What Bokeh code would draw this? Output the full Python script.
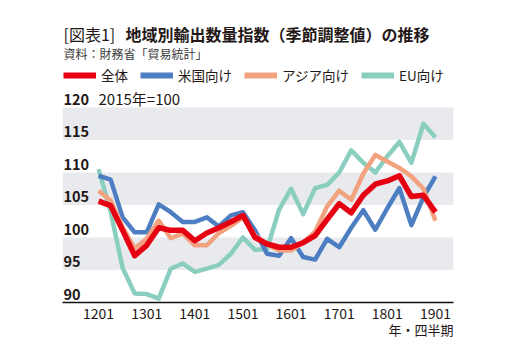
from bokeh.plotting import figure
from bokeh.models import (BoxAnnotation, Label, LabelSet, Legend, LegendItem,
                          FixedTicker, ColumnDataSource, Range1d, Title)
from bokeh.core.properties import value
from bokeh.embed import file_html
from bokeh.resources import INLINE

# ---------------- data ----------------
quarters = ["1201", "1202", "1203", "1204",
            "1301", "1302", "1303", "1304",
            "1401", "1402", "1403", "1404",
            "1501", "1502", "1503", "1504",
            "1601", "1602", "1603", "1604",
            "1701", "1702", "1703", "1704",
            "1801", "1802", "1803", "1804",
            "1901"]

total = [105.6, 104.9, 101.1, 97.2, 98.8, 101.5, 101.1, 101.1, 99.5, 100.7,
         101.5, 102.4, 103.4, 100.0, 99.0, 98.5, 98.5, 99.2, 100.3, 102.8,
         105.2, 103.8, 106.5, 108.2, 108.7, 109.5, 106.3, 106.5, 103.9]

usa = [109.5, 108.9, 103.1, 100.8, 100.8, 105.1, 103.9, 102.4, 102.4, 103.1,
       101.7, 103.4, 103.9, 101.1, 97.5, 97.2, 99.9, 97.0, 96.6, 99.8,
       98.5, 101.5, 104.2, 101.2, 104.5, 107.6, 101.9, 106.2, 109.4]

asia = [107.2, 105.7, 101.6, 98.3, 99.8, 102.6, 99.9, 100.6, 98.8, 98.8,
        100.7, 101.8, 103.1, 100.3, 99.0, 98.0, 98.0, 99.2, 100.9, 104.8,
        107.2, 105.8, 109.8, 112.7, 111.7, 110.7, 109.4, 107.5, 102.6]

eu = [110.5, 104.0, 95.3, 91.4, 91.3, 90.6, 95.2, 96.0, 94.7, 95.2,
      95.8, 97.5, 100.0, 98.1, 98.2, 104.3, 107.5, 103.6, 107.6, 108.1,
      110.0, 113.4, 111.5, 110.0, 112.5, 114.7, 111.5, 117.5, 115.4]

series_names = ["全体", "米国向け", "アジア向け", "EU向け"]
x_tick_labels = ["1201", "1301", "1401", "1501", "1601", "1701", "1801", "1901"]
y_ticks = [90, 95, 100, 105, 110, 115, 120]
bands = [(95, 100), (105, 110), (115, 120)]

title_prefix = "[図表1]"
title_main = "地域別輸出数量指数（季節調整値）の推移"
source_text = "資料：財務省「貿易統計」"
base_note = "2015年=100"
x_axis_note = "年・四半期"

# ---------------- styling ----------------
FONT = "Noto Sans CJK JP"
INK = "#231815"
colors = {"全体": "#E50012", "米国向け": "#4D7EC1",
          "アジア向け": "#F2A27F", "EU向け": "#89CEBF"}
widths = {"全体": 5.5, "米国向け": 4.5, "アジア向け": 4.5, "EU向け": 4.5}
BAND = "#E8EAED"

idx = list(range(len(quarters)))
src = ColumnDataSource(dict(x=idx, total=total, usa=usa, asia=asia, eu=eu))

# the frame reaches the top of the canvas so that the heading texts sit inside it
PX_PER_UNIT = 6.5
y_top = 120 + 107 / PX_PER_UNIT

p = figure(width=518, height=351, output_backend="svg", toolbar_location=None,
           x_range=Range1d(-3.0, 29.5), y_range=Range1d(90, y_top),
           min_border_left=62, min_border_right=65,
           min_border_top=0, min_border_bottom=49)
p.outline_line_color = None
p.background_fill_color = "white"
p.border_fill_color = "white"
p.xgrid.visible = False
p.ygrid.visible = False
p.yaxis.visible = False

for lo, hi in bands:
    p.add_layout(BoxAnnotation(bottom=lo, top=hi, fill_color=BAND, fill_alpha=1.0,
                               line_color=None, level="underlay"))

order = [("EU向け", "eu"), ("米国向け", "usa"), ("アジア向け", "asia"), ("全体", "total")]
for name, col in order:
    p.line("x", col, source=src, line_color=colors[name], line_width=widths[name],
           line_join="round")

# x axis
xa = p.xaxis[0]
xa.ticker = FixedTicker(ticks=[quarters.index(t) for t in x_tick_labels])
xa.major_label_overrides = {quarters.index(t): t for t in x_tick_labels}
xa.minor_tick_line_color = None
xa.major_tick_line_color = None
xa.major_tick_out = 0
xa.major_tick_in = 0
xa.axis_line_color = "#111111"
xa.axis_line_width = 1.5
xa.major_label_standoff = 5
xa.major_label_text_font = FONT
xa.major_label_text_font_size = "14px"
xa.major_label_text_color = INK

p.add_layout(Title(text=x_axis_note, align="right", text_font=FONT,
                   text_font_size="13px", text_font_style="normal",
                   text_color=INK, standoff=-8, offset=0), "below")

# y tick labels (sit just above their value line, inside the plot)
ysrc = ColumnDataSource(dict(y=y_ticks, t=[str(v) for v in y_ticks],
                             x=[1] * len(y_ticks)))
p.add_layout(LabelSet(x="x", y="y", text="t", source=ysrc, x_units="screen",
                      y_offset=3, text_font=value(FONT), text_font_size="14.5px",
                      text_font_style="bold", text_color=INK,
                      text_baseline="alphabetic", text_align="left"))

# texts
p.add_layout(Label(x=1, y=269, x_units="screen", y_units="screen", text=title_prefix,
                   text_font=FONT, text_font_size="16px", text_color=INK,
                   text_baseline="middle"))
p.add_layout(Label(x=63, y=269, x_units="screen", y_units="screen", text=title_main,
                   text_font=FONT, text_font_size="16px", text_font_style="bold",
                   text_color=INK, text_baseline="middle"))
p.add_layout(Label(x=1, y=249, x_units="screen", y_units="screen", text=source_text,
                   text_font=FONT, text_font_size="12px", text_color="#3a3a3a",
                   text_baseline="middle"))
p.add_layout(Label(x=36, y=204, x_units="screen", y_units="screen", text=base_note,
                   text_font=FONT, text_font_size="15px", text_color=INK,
                   text_baseline="middle"))

# legend with thick swatches (stand-in renderers with no visible points)
nan = float("nan")
items = []
for name in series_names:
    r = p.line(x=[nan, nan], y=[nan, nan], line_color=colors[name], line_width=6)
    items.append(LegendItem(label=name, renderers=[r]))
legend = Legend(items=items, orientation="horizontal", location=(1, 217),
                glyph_width=33, glyph_height=8, label_standoff=5, spacing=12,
                padding=0, margin=0, border_line_color=None,
                background_fill_alpha=0, label_text_font=FONT,
                label_text_font_size="13.5px", label_text_color=INK)
p.add_layout(legend, "center")

open("out.html", "w").write(file_html(p, INLINE))
